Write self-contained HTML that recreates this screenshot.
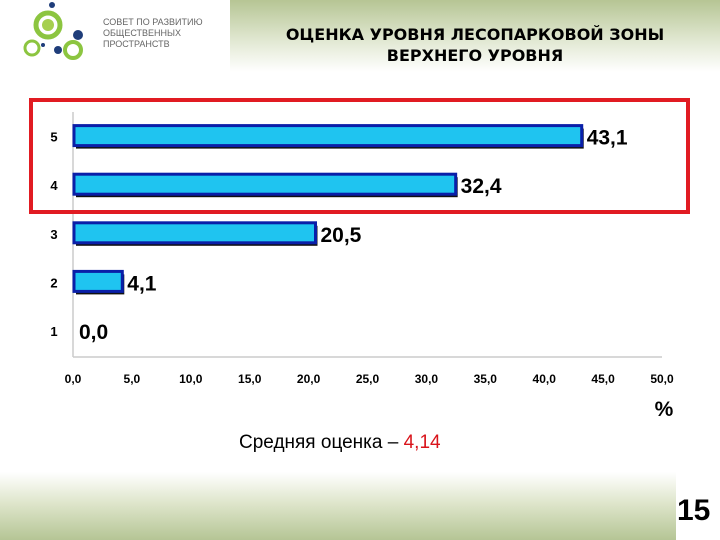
<!DOCTYPE html>
<html><head><meta charset="utf-8"><style>
body{margin:0;width:720px;height:540px;position:relative;background:#fff;overflow:hidden;font-family:"Liberation Sans",sans-serif}
.hdr{position:absolute;left:230px;top:0;width:490px;height:72px;background:linear-gradient(#b6c594,#e4ead6 60%,#fff)}
.ftr{position:absolute;left:0;top:472px;width:676px;height:68px;background:linear-gradient(#fff,#dfe6cc 45%,#b5c595)}
.title{position:absolute;left:232px;top:24px;width:486px;text-align:center;font-weight:bold;font-size:16px;line-height:21px;font-family:"DejaVu Sans",sans-serif}
.logo-text{position:absolute;left:103px;top:17px;font-size:9px;line-height:11px;color:#666}
</style></head><body>
<div class="hdr"></div>
<div class="ftr"></div>
<svg style="position:absolute;left:15px;top:0" width="80" height="60">
<circle cx="37" cy="5" r="3" fill="#1f3d7a"/>
<circle cx="33" cy="25" r="12" fill="none" stroke="#8cc540" stroke-width="5"/>
<circle cx="33" cy="25" r="6" fill="#a6cf4f"/>
<circle cx="63" cy="35" r="5" fill="#1f3d7a"/>
<circle cx="17" cy="48" r="7" fill="none" stroke="#8cc540" stroke-width="3"/>
<circle cx="58" cy="50" r="8" fill="none" stroke="#8cc540" stroke-width="4"/>
<circle cx="43" cy="50" r="4" fill="#1f3d7a"/>
<circle cx="28" cy="45" r="2" fill="#1f3d7a"/>
</svg>
<div class="logo-text">СОВЕТ ПО РАЗВИТИЮ<br>ОБЩЕСТВЕННЫХ<br>ПРОСТРАНСТВ</div>
<div class="title">ОЦЕНКА УРОВНЯ ЛЕСОПАРКОВОЙ ЗОНЫ<br>ВЕРХНЕГО УРОВНЯ</div>
<svg id="chart" style="position:absolute;left:0;top:0" width="720" height="540"></svg>
<div style="position:absolute;left:239px;top:432px;font-size:19px">Средняя оценка – <span style="color:#d9141b">4,14</span></div>
<div style="position:absolute;left:677px;top:494px;font-size:30px;font-weight:bold">15</div>
<script>
const categories=["1","2","3","4","5"];
const values=[0.0,4.1,20.5,32.4,43.1];
const valueLabels=["0,0","4,1","20,5","32,4","43,1"];
const ticks=[0,5,10,15,20,25,30,35,40,45,50];
const tickLabels=["0,0","5,0","10,0","15,0","20,0","25,0","30,0","35,0","40,0","45,0","50,0"];
const svg=document.getElementById('chart');
const NS='http://www.w3.org/2000/svg';
const x=v=>73+v*(662-73)/50;
const y=i=>331-i*48.6;
function mk(t,a,txt){const e=document.createElementNS(NS,t);for(const k in a)e.setAttribute(k,a[k]);if(txt!==undefined)e.textContent=txt;svg.appendChild(e);return e;}
let e;
e=mk('line',{x1:73,y1:112,x2:73,y2:357,stroke:'#ccc','stroke-width':1.5});


e=mk('line',{x1:73,y1:357,x2:662,y2:357,stroke:'#ccc','stroke-width':1.5});


ticks.forEach((t,i)=>{
 e=mk('text',{x:x(t),y:383,'text-anchor':'middle','font-size':12,'font-weight':'bold','font-family':'Liberation Sans'},tickLabels[i]);
 
 
});
categories.forEach((c,i)=>{
 const cy=y(i);
 e=mk('text',{x:54,y:cy+5,'text-anchor':'middle','font-size':13,'font-weight':'bold','font-family':'Liberation Sans'},c);
 
 
 const w=x(values[i])-x(0);
 if(w>0){
  e=mk('rect',{x:76,y:cy-8,width:w,height:20,fill:'#111'});
  
  
  e=mk('rect',{x:74,y:cy-11,width:w,height:20,fill:'#1fc4f0',stroke:'#0a1fa8','stroke-width':3});
  
  
 }
 e=mk('text',{x:x(values[i])+6,y:cy+8,'font-size':21,'font-weight':'bold','font-family':'Liberation Sans'},valueLabels[i]);
 
 
});
e=mk('text',{x:664,y:416,'text-anchor':'middle','font-size':21,'font-weight':'bold','font-family':'Liberation Sans'},'%');


e=mk('rect',{x:31,y:100,width:657,height:112,fill:'none',stroke:'#e11b22','stroke-width':4});


</script>
</body></html>
